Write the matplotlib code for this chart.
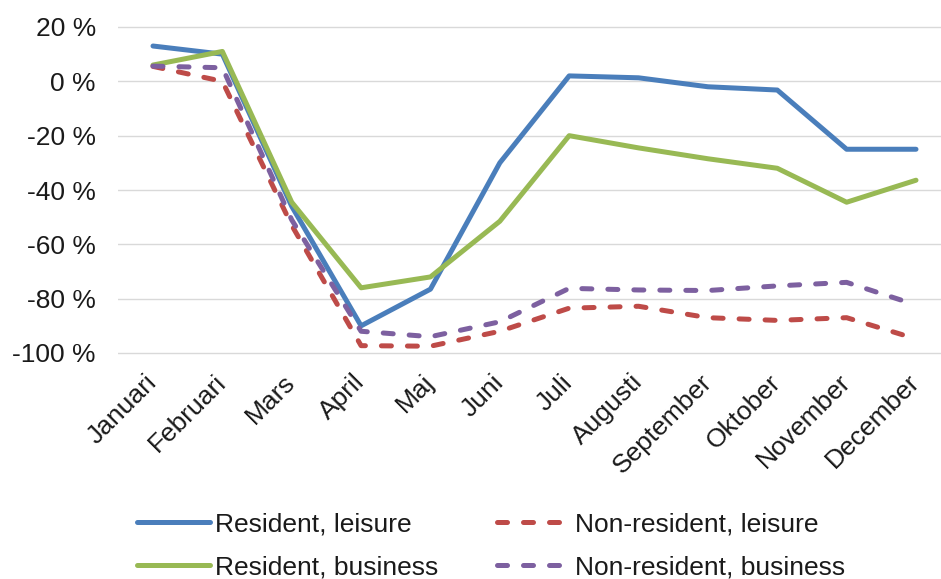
import matplotlib
matplotlib.use("Agg")
import matplotlib.pyplot as plt
from matplotlib.ticker import FuncFormatter

plt.rcParams['font.family'] = ['Liberation Sans', 'DejaVu Sans']

months = ["Januari", "Februari", "Mars", "April", "Maj", "Juni", "Juli",
          "Augusti", "September", "Oktober", "November", "December"]
resident_leisure = [13, 10, -46, -90, -76.5, -30, 2, 1.3, -2, -3.2, -25, -25]
resident_business = [6, 11, -44.5, -76, -72, -51.5, -20, -24.5, -28.5, -32, -44.5, -36.4]
nonresident_leisure = [5.5, 0, -53, -97.3, -97.5, -92, -83.5, -82.8, -87, -88, -87, -94.8]
nonresident_business = [5.6, 5, -51, -92, -94, -88.5, -76.2, -76.8, -77, -75.3, -74, -82.3]
yticks = [20, 0, -20, -40, -60, -80, -100]

W, H = 941, 579
fig = plt.figure(figsize=(W / 100, H / 100), dpi=100)
left_px, right_px = 118, 941
top_px, bot_px = 27, 353
ax = fig.add_axes([left_px / W, 1 - (bot_px + 2) / H, (right_px - left_px) / W, (bot_px - top_px + 4) / H])

x = list(range(len(months)))
lw = 3.6
blue, green, red, purple = "#4A7EBB", "#98B954", "#BE4B48", "#7D60A0"
l1, = ax.plot(x, resident_leisure, color=blue, lw=lw, solid_capstyle='round', solid_joinstyle='round', label="Resident, leisure")
l2, = ax.plot(x, resident_business, color=green, lw=lw, solid_capstyle='round', solid_joinstyle='round', label="Resident, business")
l3, = ax.plot(x, nonresident_leisure, color=red, lw=lw, dashes=(2.0, 3.2), dash_capstyle='round', label="Non-resident, leisure")
l4, = ax.plot(x, nonresident_business, color=purple, lw=lw, dashes=(2.0, 3.2), dash_capstyle='round', label="Non-resident, business")

# spacing: Jan at 153, Dec at 916
sp = (916 - 153) / 11
x0 = -(153 - left_px) / sp
x1 = x0 + (right_px - left_px) / sp
ax.set_xlim(x0, x1)
ppu = (bot_px - top_px) / 120.0
ax.set_ylim(-100 - 2 / ppu, 20 + 2 / ppu)
ax.set_yticks(yticks)
ax.yaxis.set_major_formatter(FuncFormatter(lambda v, p: f"{int(v)} %"))
ax.set_xticks(x)
ax.set_xticklabels(months, rotation=45, ha='right', va='center', rotation_mode='anchor')
ax.grid(axis='y', color='#D9D9D9', lw=1.0)
ax.set_axisbelow(True)
for s in ax.spines.values():
    s.set_visible(False)
ax.tick_params(axis='both', length=0, labelsize=19, colors='#1a1a1a')
ax.tick_params(axis='y', pad=16)
ax.tick_params(axis='x', pad=17)

leg = fig.legend(handles=[l1, l2, l3, l4], ncol=2, frameon=False, fontsize=19,
                 loc='center left', bbox_to_anchor=(137 / W, 1 - 546 / H),
                 borderpad=0, borderaxespad=0, handlelength=2.75, handletextpad=0.2,
                 columnspacing=2.25, labelspacing=0.72)
for t in leg.get_texts():
    t.set_color('#1a1a1a')

fig.savefig("out.png", dpi=100)
